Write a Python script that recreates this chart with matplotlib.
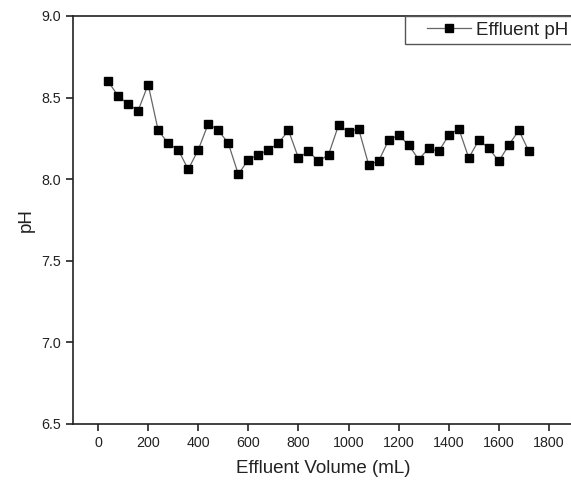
import matplotlib.pyplot as plt
from matplotlib.legend_handler import HandlerLine2D

# effluent volume (mL) and measured pH
volume = [40, 80, 120, 160, 200, 240, 280, 320, 360, 400, 440, 480, 520, 560,
          600, 640, 680, 720, 760, 800, 840, 880, 920, 960, 1000, 1040, 1080,
          1120, 1160, 1200, 1240, 1280, 1320, 1360, 1400, 1440, 1480, 1520,
          1560, 1600, 1640, 1680, 1720]
ph = [8.60, 8.51, 8.46, 8.42, 8.58, 8.30, 8.22, 8.18, 8.06, 8.18, 8.34, 8.30,
      8.22, 8.03, 8.12, 8.15, 8.18, 8.22, 8.30, 8.13, 8.17, 8.11, 8.15, 8.33,
      8.29, 8.31, 8.09, 8.11, 8.24, 8.27, 8.21, 8.12, 8.19, 8.17, 8.27, 8.31,
      8.13, 8.24, 8.19, 8.11, 8.21, 8.30, 8.17]
xticks = list(range(0, 2000, 200))
yticks = [6.5, 7.0, 7.5, 8.0, 8.5, 9.0]

plt.rcParams['font.family'] = ['Liberation Sans', 'DejaVu Sans']
text_col = '#222222'

fig = plt.figure(figsize=(5.71, 4.87), dpi=100)
ax = fig.add_axes([73 / 571, 1 - 424 / 487, 501 / 571, 408 / 487])

line, = ax.plot(volume, ph, color='#666666', lw=0.9, marker='s', markersize=5.8,
                markerfacecolor='black', markeredgecolor='black',
                label='Effluent pH')

ax.set_xlim(-100, 1900)
ax.set_ylim(6.5, 9.0)
ax.set_xticks(xticks)
ax.set_yticks(yticks)
ax.set_yticklabels([f'{v:.1f}' for v in yticks])

for s in ax.spines.values():
    s.set_linewidth(1.2)
    s.set_color('#222222')
ax.tick_params(direction='out', length=5, width=1.2, labelsize=10.3,
               colors='#222222', labelcolor=text_col)

ax.set_xlabel('Effluent Volume (mL)', fontsize=13.5, color=text_col, labelpad=7)
ax.set_ylabel('pH', fontsize=13.5, color=text_col, labelpad=5)

# Origin-style legend: empty margin left of the short line handle
leg = ax.legend(loc='upper right', borderaxespad=0, fontsize=13.5,
                fancybox=False, handlelength=3.2, handletextpad=0.3,
                borderpad=0.3, framealpha=1,
                handler_map={line: HandlerLine2D(xpad=0.9)})
leg.get_frame().set_edgecolor('#555555')
leg.get_frame().set_linewidth(1.0)
for t in leg.get_texts():
    t.set_color(text_col)

fig.savefig('out.png', dpi=100)
